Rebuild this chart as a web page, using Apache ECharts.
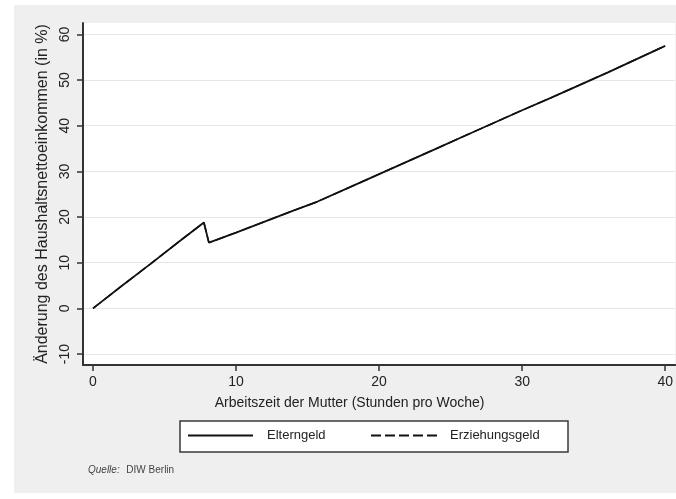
<!DOCTYPE html>
<html>
<head>
<meta charset="utf-8">
<script src="https://cdn.jsdelivr.net/npm/echarts@6/dist/echarts.min.js"></script>
<style>
html,body{margin:0;padding:0;background:#ffffff;}
#chart{width:676px;height:499px;}
</style>
</head>
<body>
<div id="chart"></div>
<script>
// Data
const hours = [0, 2, 4, 6, 7.75, 8.1, 10, 12, 14, 15.7, 18, 20, 22, 24, 26, 28, 30, 32, 34, 36, 38, 40];
const elterngeld = [0, 4.9, 9.7, 14.6, 18.8, 14.4, 16.6, 19.0, 21.4, 23.4, 26.6, 29.4, 32.2, 35.0, 37.8, 40.6, 43.4, 46.1, 48.9, 51.7, 54.6, 57.5];
const erziehungsgeld = [0, 4.9, 9.7, 14.6, 18.8, 14.4, 16.6, 19.0, 21.4, 23.4, 26.6, 29.4, 32.2, 35.0, 37.8, 40.6, 43.4, 46.1, 48.9, 51.7, 54.6, 57.5];
const xTicks = [0, 10, 20, 30, 40];
const yTicks = [-10, 0, 10, 20, 30, 40, 50, 60];
const seriesNames = ['Elterngeld', 'Erziehungsgeld'];
const xTitle = 'Arbeitszeit der Mutter (Stunden pro Woche)';
const yTitle = 'Änderung des Haushaltsnettoeinkommen (in %)';

const font = 'Liberation Sans, Arial, sans-serif';
const chart = echarts.init(document.getElementById('chart'), null, {renderer: 'canvas'});

const pairs = (xs, ys) => xs.map((x, i) => [x, ys[i]]);

chart.setOption({
  animation: false,
  backgroundColor: '#ffffff',
  textStyle: {fontFamily: font},
  graphic: [
    {type: 'rect', z: -10, shape: {x: 14, y: 5, width: 662, height: 488}, style: {fill: '#efefef'}},
    {type: 'rect', z: 1, shape: {x: 180, y: 421, width: 388, height: 31}, style: {fill: '#ffffff', stroke: '#3a3a3a', lineWidth: 1.5}},
    {type: 'text', z: 5, left: 88, top: 464, style: {
      text: '{i|Quelle:}  {n|DIW Berlin}',
      rich: {
        i: {fontStyle: 'italic', fontSize: 10, fill: '#444', fontFamily: font},
        n: {fontSize: 10, fill: '#444', fontFamily: font}
      }
    }}
  ],
  legend: [
    {data: [seriesNames[0]], left: 187, top: 429, padding: 0, itemWidth: 65, itemHeight: 14, z: 5,
     itemStyle: {opacity: 0},
     textStyle: {fontSize: 13, color: '#222', fontFamily: font, padding: [0, 0, 0, 9]}, selectedMode: false},
    {data: [seriesNames[1]], left: 370, top: 429, padding: 0, itemWidth: 67, itemHeight: 14, z: 5,
     itemStyle: {opacity: 0},
     textStyle: {fontSize: 13, color: '#222', fontFamily: font, padding: [0, 0, 0, 7]}, selectedMode: false}
  ],
  grid: {left: 83, right: 0, top: 23, bottom: 134, show: true, backgroundColor: '#ffffff', borderWidth: 0, containLabel: false},
  xAxis: {
    type: 'value', min: -0.7, max: 40.7,
    name: xTitle, nameLocation: 'middle', nameGap: 31,
    nameTextStyle: {fontSize: 14, color: '#222', fontFamily: font, padding: [0, 59, 0, 0]},
    axisLine: {show: true, onZero: false, lineStyle: {color: '#333', width: 2}},
    axisTick: {show: true, length: 6, customValues: xTicks, lineStyle: {color: '#333', width: 1.5}},
    axisLabel: {customValues: xTicks, fontSize: 14, color: '#222', margin: 10, fontFamily: font},
    splitLine: {show: false}
  },
  yAxis: {
    type: 'value', min: -12.4, max: 62.5,
    name: yTitle, nameLocation: 'middle', nameGap: 31, nameRotate: 90,
    nameTextStyle: {fontSize: 16, color: '#222', fontFamily: font},
    axisLine: {show: true, onZero: false, lineStyle: {color: '#333', width: 2}},
    axisTick: {show: true, length: 6, customValues: yTicks, lineStyle: {color: '#333', width: 1.5}},
    axisLabel: {customValues: yTicks, rotate: 90, fontSize: 14, color: '#222', margin: 11, fontFamily: font},
    splitLine: {show: true, lineStyle: {color: '#e6e6e6', width: 1}}
  },
  series: [
    {name: seriesNames[1], type: 'line', data: pairs(hours, erziehungsgeld), symbol: 'none', z: 2,
     lineStyle: {color: '#111', width: 1.5, type: [10, 4]}, itemStyle: {color: '#111'}},
    {name: seriesNames[0], type: 'line', data: pairs(hours, elterngeld), symbol: 'none', z: 3,
     lineStyle: {color: '#111', width: 1.8, type: 'solid'}, itemStyle: {color: '#111'}}
  ]
});
</script>
</body>
</html>
